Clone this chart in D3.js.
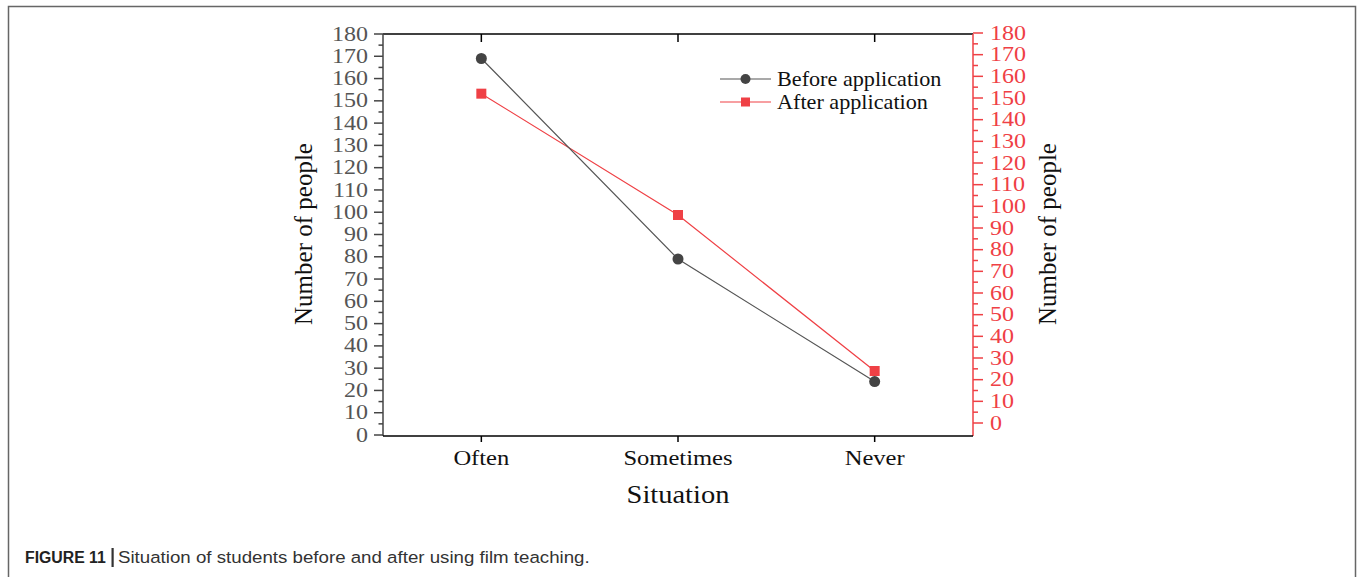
<!DOCTYPE html>
<html>
<head>
<meta charset="utf-8">
<script src="https://cdn.jsdelivr.net/npm/d3@7"></script>
<style>
  body { margin: 0; background: #fff; }
  svg { display: block; }
</style>
</head>
<body>
<div id="chart"></div>
<script>
const categories = ['Often', 'Sometimes', 'Never'];
const beforeValues = [169, 79, 24];
const afterValues = [152, 96, 24];
const yTicks = d3.range(0, 181, 10);
const seriesNames = ['Before application', 'After application'];

const width = 1357;
const height = 577;
const plot = { left: 383, right: 973, top: 34, bottom: 436 };

const svg = d3.select('#chart')
  .append('svg')
  .attr('width', width)
  .attr('height', height);

// figure frame (open at bottom)
svg.append('path')
  .attr('d', `M8.5,${height} V6.5 H1355.5 V${height}`)
  .attr('fill', 'none')
  .attr('stroke', '#666')
  .attr('stroke-width', 1.5);

const x = d3.scalePoint()
  .domain(categories)
  .range([plot.left, plot.right])
  .padding(0.5);

const yLeft = d3.scaleLinear().domain([0, 180]).range([435, 34]);
const yRight = d3.scaleLinear().domain([0, 180]).range([423, 33]);

const serif = 'Liberation Serif, Times New Roman, serif';
const red = '#ef4045';

// text in the picture is a bit stretched sideways
function wideText(sel, px, py, sx) {
  return sel.attr('transform', `translate(${px},${py}) scale(${sx},1)`);
}

// top frame line with inward ticks
svg.append('line')
  .attr('x1', plot.left).attr('x2', plot.right)
  .attr('y1', plot.top).attr('y2', plot.top)
  .attr('stroke', '#000').attr('stroke-width', 1.5);
svg.selectAll('.top-tick')
  .data(categories)
  .enter()
  .append('line')
  .attr('x1', (d) => x(d)).attr('x2', (d) => x(d))
  .attr('y1', plot.top).attr('y2', plot.top + 8)
  .attr('stroke', '#000').attr('stroke-width', 1.5);

// left axis
const leftG = svg.append('g').attr('transform', `translate(${plot.left},0)`);
leftG.append('line')
  .attr('y1', plot.top).attr('y2', plot.bottom)
  .attr('stroke', '#444').attr('stroke-width', 1.5);
leftG.selectAll('.minor')
  .data(yTicks.slice(0, -1).map((d) => d + 5))
  .enter()
  .append('line')
  .attr('x1', -4.5).attr('x2', 0)
  .attr('y1', (d) => yLeft(d)).attr('y2', (d) => yLeft(d))
  .attr('stroke', '#444').attr('stroke-width', 1.5);
leftG.selectAll('.major')
  .data(yTicks)
  .enter()
  .append('line')
  .attr('x1', -9).attr('x2', 0)
  .attr('y1', (d) => yLeft(d)).attr('y2', (d) => yLeft(d))
  .attr('stroke', '#444').attr('stroke-width', 1.5);
leftG.selectAll('.lbl')
  .data(yTicks)
  .enter()
  .append('text')
  .each(function (d) { wideText(d3.select(this), -15, yLeft(d), 1.2); })
  .attr('dy', '0.33em')
  .attr('text-anchor', 'end')
  .attr('font-family', serif)
  .attr('font-size', 20)
  .attr('fill', '#555')
  .text((d) => d);

// right axis (red)
const rightG = svg.append('g').attr('transform', `translate(${plot.right},0)`);
rightG.append('line')
  .attr('y1', plot.top).attr('y2', plot.bottom)
  .attr('stroke', red).attr('stroke-width', 1.5);
rightG.selectAll('.minor')
  .data(yTicks.slice(0, -1).map((d) => d + 5))
  .enter()
  .append('line')
  .attr('x1', 0).attr('x2', 5)
  .attr('y1', (d) => yRight(d)).attr('y2', (d) => yRight(d))
  .attr('stroke', red).attr('stroke-width', 1.5);
rightG.selectAll('.major')
  .data(yTicks)
  .enter()
  .append('line')
  .attr('x1', 0).attr('x2', 10)
  .attr('y1', (d) => yRight(d)).attr('y2', (d) => yRight(d))
  .attr('stroke', red).attr('stroke-width', 1.5);
rightG.selectAll('.lbl')
  .data(yTicks)
  .enter()
  .append('text')
  .each(function (d) { wideText(d3.select(this), 17, yRight(d), 1.2); })
  .attr('dy', '0.33em')
  .attr('text-anchor', 'start')
  .attr('font-family', serif)
  .attr('font-size', 20)
  .attr('fill', red)
  .text((d) => d);

// bottom axis
svg.append('line')
  .attr('x1', plot.left).attr('x2', plot.right)
  .attr('y1', plot.bottom).attr('y2', plot.bottom)
  .attr('stroke', '#000').attr('stroke-width', 1.5);
svg.selectAll('.x-tick')
  .data(categories)
  .enter()
  .append('line')
  .attr('x1', (d) => x(d)).attr('x2', (d) => x(d))
  .attr('y1', plot.bottom).attr('y2', plot.bottom + 6)
  .attr('stroke', '#000').attr('stroke-width', 1.5);
svg.selectAll('.x-lbl')
  .data(categories)
  .enter()
  .append('text')
  .each(function (d) { wideText(d3.select(this), x(d), 465, 1.17); })
  .attr('text-anchor', 'middle')
  .attr('font-family', serif)
  .attr('font-size', 21)
  .attr('fill', '#111')
  .text((d) => d);

// axis titles
wideText(svg.append('text'), (plot.left + plot.right) / 2, 503, 1.14)
  .attr('text-anchor', 'middle')
  .attr('font-family', serif)
  .attr('font-size', 25)
  .attr('fill', '#111')
  .text('Situation');
svg.append('text')
  .attr('transform', 'translate(312,234) rotate(-90)')
  .attr('text-anchor', 'middle')
  .attr('font-family', serif)
  .attr('font-size', 25)
  .attr('fill', '#111')
  .text('Number of people');
svg.append('text')
  .attr('transform', 'translate(1056,234) rotate(-90)')
  .attr('text-anchor', 'middle')
  .attr('font-family', serif)
  .attr('font-size', 25)
  .attr('fill', '#111')
  .text('Number of people');

// series
const beforeLine = d3.line()
  .x((d, i) => x(categories[i]))
  .y((d) => yLeft(d));
const afterLine = d3.line()
  .x((d, i) => x(categories[i]))
  .y((d) => yRight(d));

svg.append('path')
  .attr('d', afterLine(afterValues))
  .attr('fill', 'none')
  .attr('stroke', red)
  .attr('stroke-width', 1.2);
svg.append('path')
  .attr('d', beforeLine(beforeValues))
  .attr('fill', 'none')
  .attr('stroke', '#555')
  .attr('stroke-width', 1.2);

svg.selectAll('.after-pt')
  .data(afterValues)
  .enter()
  .append('rect')
  .attr('x', (d, i) => x(categories[i]) - 5)
  .attr('y', (d) => yRight(d) - 5)
  .attr('width', 10)
  .attr('height', 10)
  .attr('fill', red);
svg.selectAll('.before-pt')
  .data(beforeValues)
  .enter()
  .append('circle')
  .attr('cx', (d, i) => x(categories[i]))
  .attr('cy', (d) => yLeft(d))
  .attr('r', 5.5)
  .attr('fill', '#444');

// legend
const legend = svg.append('g').attr('transform', 'translate(720,79)');
seriesNames.forEach((name, i) => {
  const g = legend.append('g').attr('transform', `translate(0,${i * 23})`);
  const c = i === 0 ? '#444' : red;
  g.append('line')
    .attr('x1', 0).attr('x2', 51)
    .attr('stroke', i === 0 ? '#555' : red)
    .attr('stroke-width', 1.2);
  if (i === 0) {
    g.append('circle').attr('cx', 25.5).attr('r', 5).attr('fill', c);
  } else {
    g.append('rect').attr('x', 21).attr('y', -4.5).attr('width', 9).attr('height', 9).attr('fill', c);
  }
  wideText(g.append('text'), 57, 0, 1.11)
    .attr('dy', '0.33em')
    .attr('font-family', serif)
    .attr('font-size', 20)
    .attr('fill', '#111')
    .text(name);
});

// caption
const sans = 'Liberation Sans, Arial, sans-serif';
wideText(svg.append('text'), 25, 563, 0.93)
  .attr('font-family', sans)
  .attr('font-size', 17)
  .attr('font-weight', 'bold')
  .attr('fill', '#222')
  .text('FIGURE 11');
svg.append('rect')
  .attr('x', 111.5).attr('y', 548)
  .attr('width', 2.2).attr('height', 19)
  .attr('fill', '#333');
wideText(svg.append('text'), 118, 563, 1.1)
  .attr('font-family', sans)
  .attr('font-size', 17)
  .attr('fill', '#333')
  .text('Situation of students before and after using film teaching.');
</script>
</body>
</html>
